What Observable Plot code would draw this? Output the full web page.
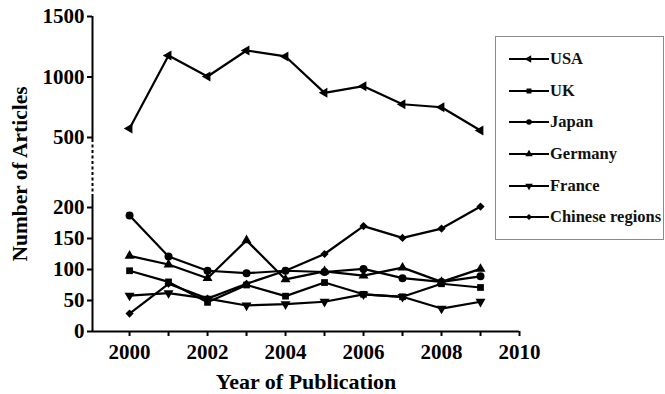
<!DOCTYPE html>
<html>
<head>
<meta charset="utf-8">
<script src="https://cdn.jsdelivr.net/npm/d3@7"></script>
<script src="https://cdn.jsdelivr.net/npm/@observablehq/plot@0.6"></script>
<style>
  html, body { margin: 0; padding: 0; background: #fff; }
  #wrap { position: relative; width: 665px; height: 394px; overflow: hidden; }
  #chart svg { font-family: "Liberation Serif", "Times New Roman", serif; font-weight: bold; font-size: 21px; }
  #legend {
    position: absolute; left: 495px; top: 36px; width: 169px; height: 204px;
    box-sizing: border-box; border: 1px solid #8a8a8a; background: #fff;
    font-family: "Liberation Serif", "Times New Roman", serif; font-weight: bold; font-size: 16.5px; color: #111;
  }
  .item { position: absolute; left: 13px; height: 20px; display: flex; align-items: center; white-space: nowrap; }
  .item svg { display: block; margin-right: 1px; }
</style>
</head>
<body>
<div id="wrap">
  <div id="chart"></div>
  <div id="legend"></div>
</div>
<script>
// ---- data ----
const years = [2000, 2001, 2002, 2003, 2004, 2005, 2006, 2007, 2008, 2009];
const usa = [574, 1178, 1004, 1219, 1170, 869, 924, 775, 750, 558];
const uk = [98, 80, 47, 75, 57, 79, 60, 56, 77, 71];
const japan = [187, 121, 98, 94, 98, 96, 101, 86, 80, 89];
const germany = [122, 108, 86, 147, 84, 97, 90, 103, 80, 101];
const france = [58, 62, 53, 42, 44, 48, 60, 56, 37, 48];
const chinese = [29, 77, 53, 77, 98, 125, 170, 151, 166, 204];
const seriesNames = ["USA", "UK", "Japan", "Germany", "France", "Chinese regions"];
const yTicks = [0, 50, 100, 150, 200, 500, 1000, 1500];
const xTicks = [2000, 2001, 2002, 2003, 2004, 2005, 2006, 2007, 2008, 2009, 2010];
const xLabel = "Year of Publication";
const yLabel = "Number of Articles";

// ---- styling (symbol per series) ----
const seriesValues = [usa, uk, japan, germany, france, chinese];
const symbolStyle = [
  {symbol: "triangle", rotate: -90, r: 3.7},
  {symbol: "square", rotate: 0, r: 3.8},
  {symbol: "circle", rotate: 0, r: 4},
  {symbol: "triangle", rotate: 0, r: 3.7},
  {symbol: "triangle", rotate: 180, r: 3.7},
  {symbol: "diamond2", rotate: 0, r: 3.7}
];

const marks = [];
seriesNames.forEach((name, i) => {
  const rows = years.map((yr, j) => ({year: yr, value: seriesValues[i][j], series: name}));
  marks.push(Plot.line(rows, {x: "year", y: "value", stroke: "#000", strokeWidth: 2.2}));
  marks.push(Plot.dot(rows, {x: "year", y: "value", symbol: symbolStyle[i].symbol, rotate: symbolStyle[i].rotate, r: symbolStyle[i].r, fill: "#000", stroke: "none"}));
});

const xMin = 1999.05, xMax = 2010;
// broken y axis: solid, dashed break, solid
const axisMarks = [
  Plot.ruleY([0], {stroke: "#000", strokeWidth: 2}),
  Plot.ruleX([xMin], {y1: 0, y2: 243, stroke: "#000", strokeWidth: 2}),
  Plot.ruleX([xMin], {y1: 243, y2: 487, stroke: "#000", strokeWidth: 2, strokeDasharray: "3,2.5"}),
  Plot.ruleX([xMin], {y1: 487, y2: 1500, stroke: "#000", strokeWidth: 2}),
  Plot.axisY({ticks: yTicks, tickSize: 5, tickPadding: 3, strokeWidth: 2, tickFormat: d => String(d), label: null}),
  Plot.axisX({ticks: xTicks, tickSize: 5, tickPadding: 8, strokeWidth: 2, tickFormat: d => (d % 2 ? "" : String(d)), label: null}),
  Plot.text([xLabel], {frameAnchor: "bottom", dy: 57, lineAnchor: "bottom", text: d => d, fontSize: 22, fontWeight: "bold"}),
  Plot.text([yLabel], {frameAnchor: "left", dx: -72, rotate: -90, textAnchor: "middle", lineAnchor: "middle", text: d => d, fontSize: 21.5, fontWeight: "bold"})
];

const chart = Plot.plot({
  width: 665,
  height: 394,
  marginLeft: 92,
  marginRight: 146,
  marginTop: 16,
  marginBottom: 63,
  x: {domain: [xMin, xMax], axis: null},
  y: {type: "linear", domain: [0, 200, 500, 1500], range: [331, 207, 137, 16], axis: null},
  marks: [...axisMarks, ...marks]
});
document.getElementById("chart").appendChild(chart);

// ---- legend ----
const legend = document.getElementById("legend");
const itemY = [22, 54, 85, 117, 149, 180];
const symTypes = {triangle: d3.symbolTriangle, square: d3.symbolSquare, circle: d3.symbolCircle, diamond2: d3.symbolDiamond2};
seriesNames.forEach((name, i) => {
  const div = document.createElement("div");
  div.className = "item";
  div.style.top = (itemY[i] - 10) + "px";
  const s = symbolStyle[i];
  const path = d3.symbol(symTypes[s.symbol], Math.PI * 2.8 * 2.8)();
  div.innerHTML = `<svg width="40" height="20" viewBox="0 0 40 20">
    <line x1="0" y1="10" x2="40" y2="10" stroke="#000" stroke-width="2"/>
    <path d="${path}" transform="translate(20,10) rotate(${s.rotate})" fill="#000"/>
  </svg><span>${name}</span>`;
  legend.appendChild(div);
});
</script>
</body>
</html>
